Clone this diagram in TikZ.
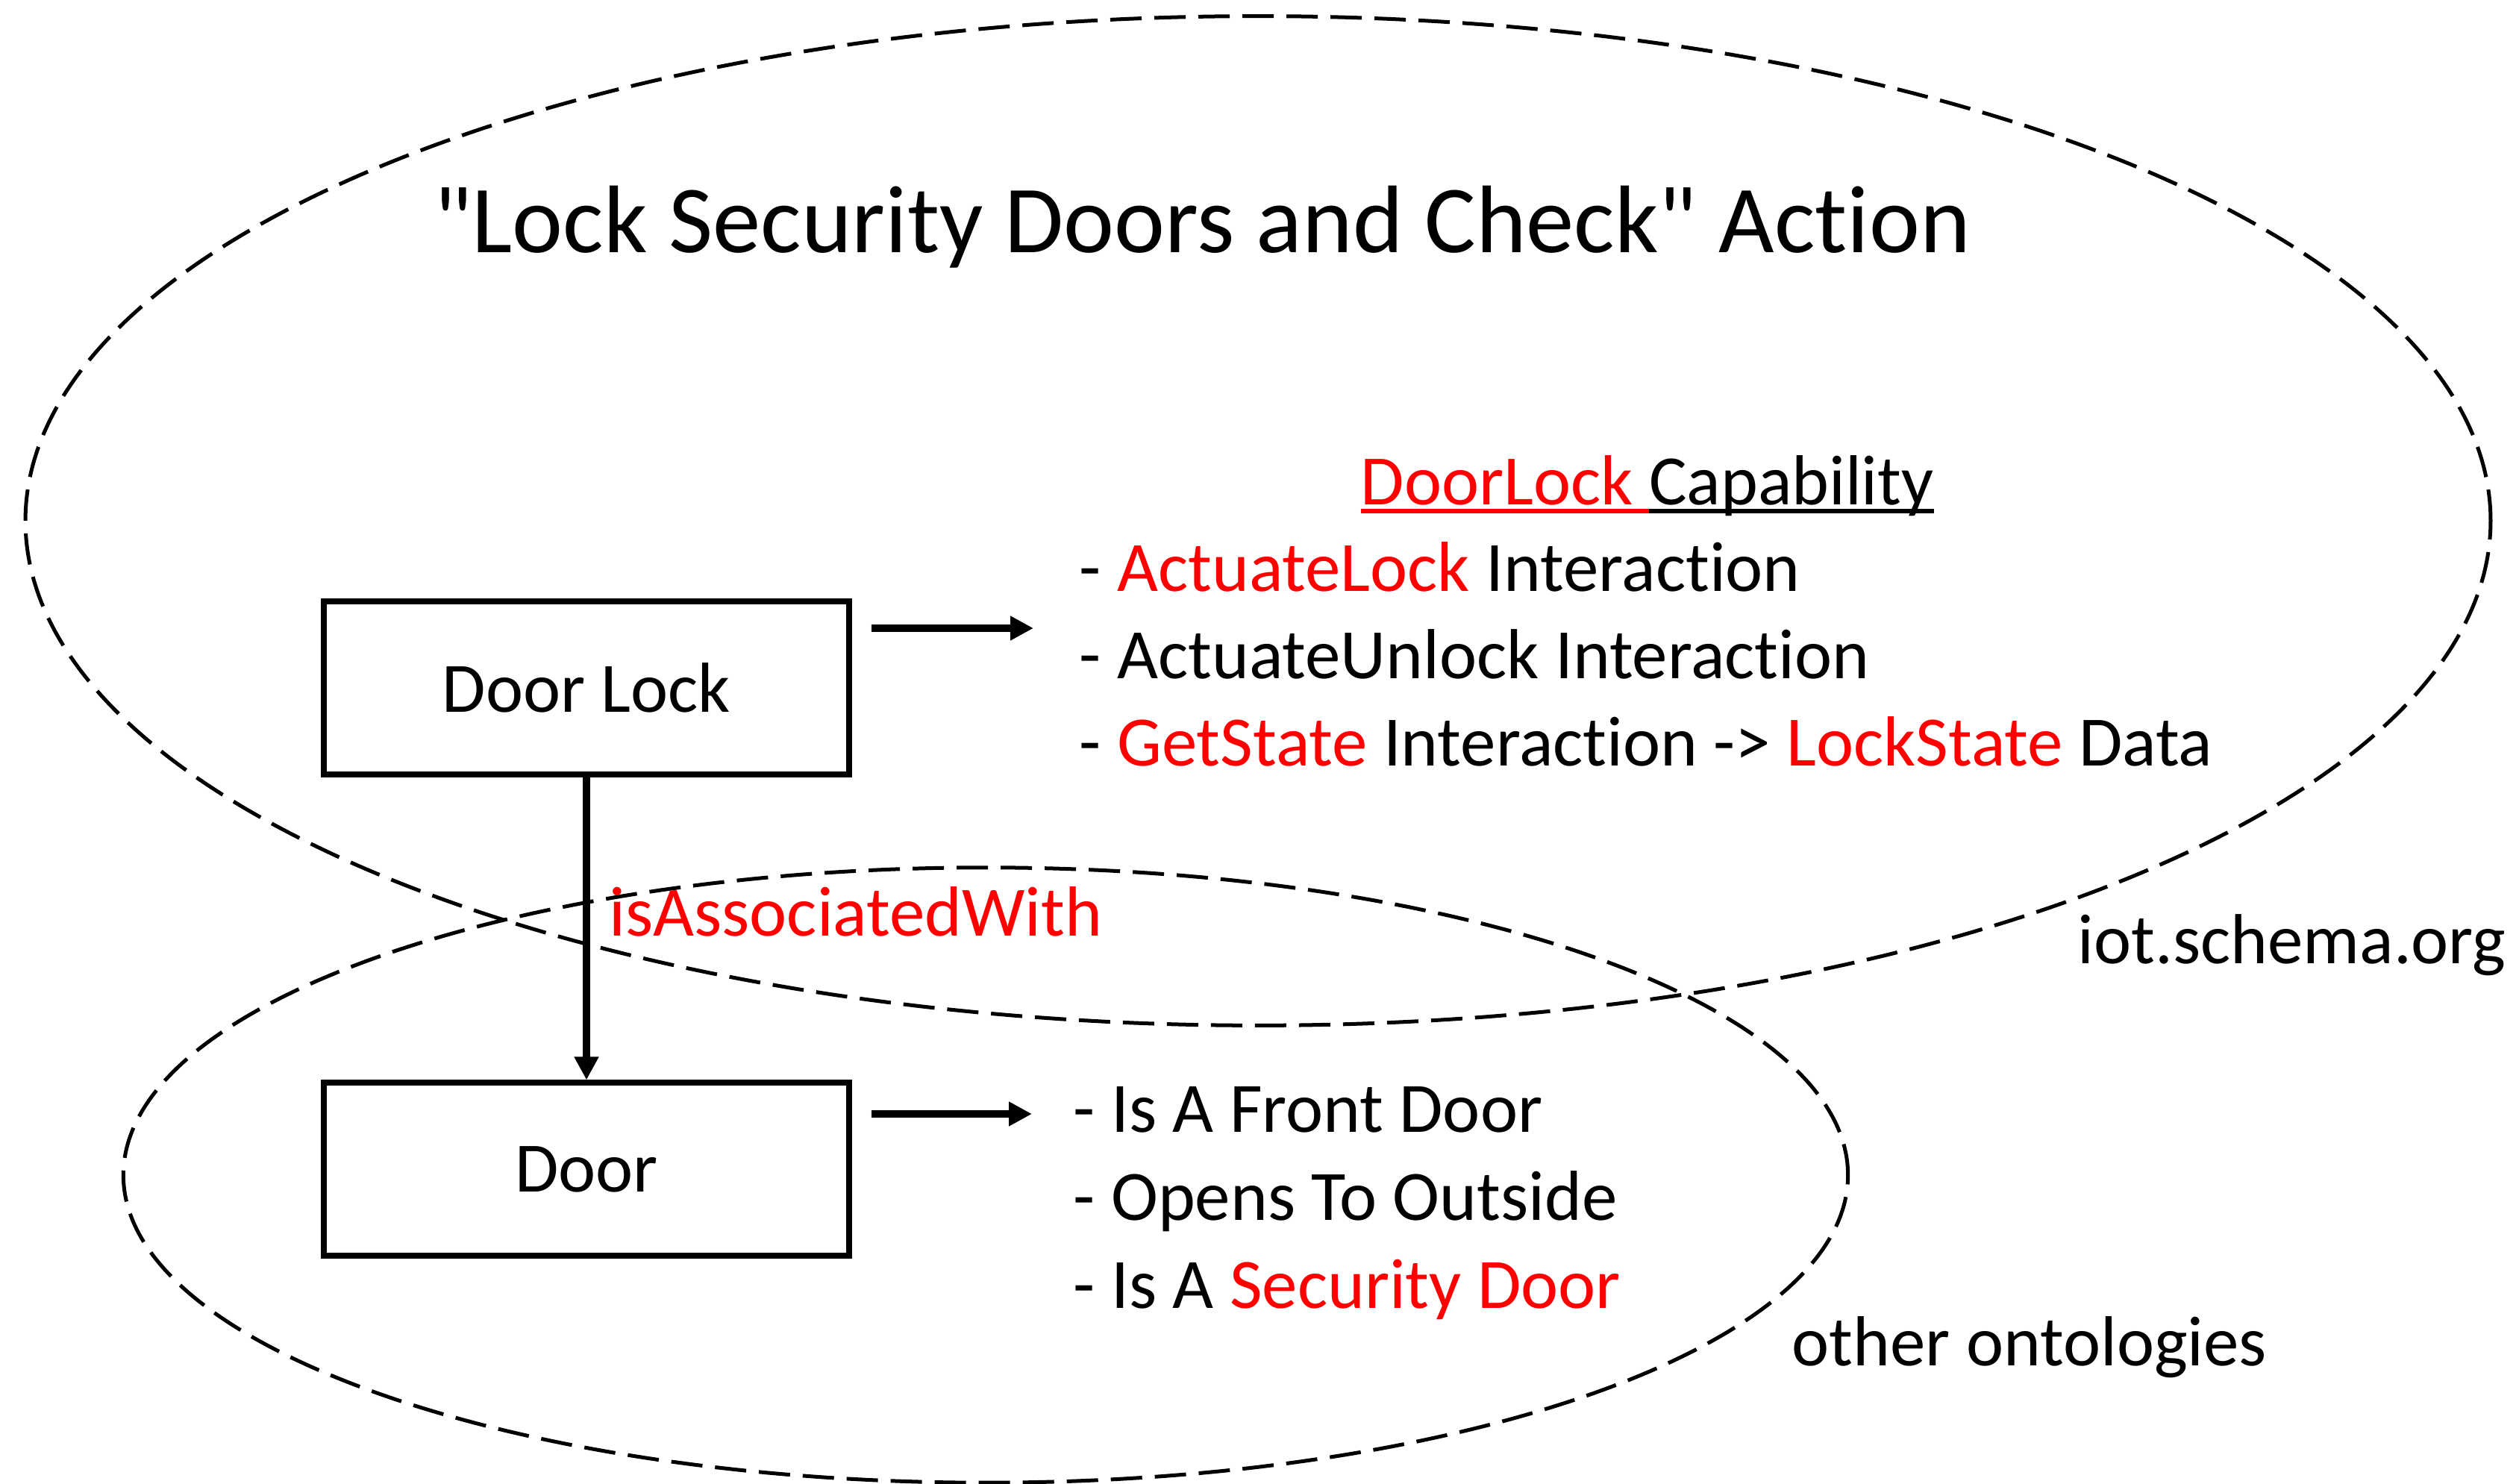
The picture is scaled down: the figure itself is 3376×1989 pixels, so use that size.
\documentclass[tikz,border=0pt]{standalone}
\usepackage{fontspec}
\newfontfamily\diagfont{Carlito}[Ligatures=NoCommon]
\usepackage{tikz}
\usetikzlibrary{arrows.meta,calc}
\usepackage{xcolor}
\definecolor{ontred}{RGB}{255,0,0}
\newcommand{\lineunder}[1]{\setbox0\hbox{#1}\rlap{\rule[-3.1pt]{\wd0}{1.7pt}}\box0}
\tikzset{
    x=0.01cm,
    y=-0.01cm,
    label text/.style={inner sep=0, anchor=base west, font=\diagfont\fontsize{27}{32}\selectfont},
    thing/.style={draw, line width=0.08cm, minimum width=7.03cm, minimum height=2.31cm,
        inner sep=0, font=\diagfont\fontsize{27}{32}\selectfont},
    flow/.style={line width=0.095cm, -{Triangle[length=0.31cm,width=0.31cm]}},
    ontology/.style={line width=0.05cm, dash pattern=on 0.42cm off 0.17cm},
}

\begin{document}
\begin{tikzpicture}
    \useasboundingbox (0,0) rectangle (3376,1989);

    \draw[ontology] (1686,698) ellipse [x radius=16.51cm, y radius=6.76cm];
    \draw[ontology] (1321,1575) ellipse [x radius=11.55cm, y radius=4.12cm];

    \node[inner sep=0, anchor=base, font=\diagfont\fontsize{36.6}{44}\selectfont] (title)
        at (1611,339) {"Lock Security Doors and Check" Action};

    \node[thing] (lock) at (786,922) {Door Lock};
    \node[thing] (door) at (786,1567) {Door};

    \draw[flow] (lock.south) -- (door.north);
    \node[label text, text=ontred] (assoc) at (816,1254) {isAssociatedWith};

    \coordinate (capsin) at (1385,842);
    \coordinate (propsin) at (1383,1493);
    \draw[flow] ($(lock.east |- capsin)+(26,0)$) -- (capsin);
    \draw[flow] ($(door.east |- propsin)+(26,0)$) -- (propsin);

    \node[label text] (caphead) at (1823,677)
        {{\color{ontred}\lineunder{DoorLock }}\lineunder{Capability}};
    \node[label text] (cap1) at (1446,793)
        {- \textcolor{ontred}{ActuateLock} Interaction};
    \node[label text] (cap2) at (1446,910)
        {- ActuateUnlock Interaction};
    \node[label text] (cap3) at (1446,1027)
        {- \textcolor{ontred}{GetState} Interaction -> \textcolor{ontred}{LockState} Data};

    \node[label text] (prop1) at (1438,1517) {- Is A Front Door};
    \node[label text] (prop2) at (1438,1635) {- Opens To Outside};
    \node[label text] (prop3) at (1438,1753)
        {- Is A \textcolor{ontred}{Security Door}};

    \node[label text] (iot) at (2784,1291) {iot.schema.org};
    \node[label text] (other) at (2401,1830) {other ontologies};
\end{tikzpicture}
\end{document}
